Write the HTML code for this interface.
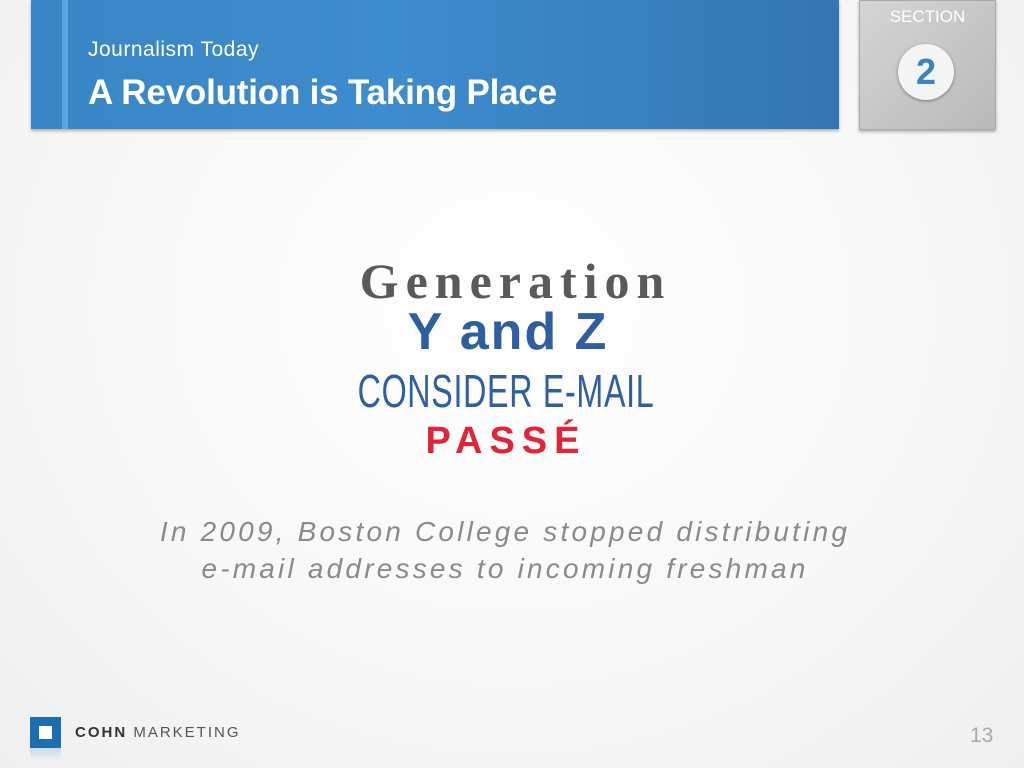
<!DOCTYPE html>
<html><head><meta charset="utf-8"><style>
body{margin:0;width:1024px;height:768px;overflow:hidden;background:radial-gradient(ellipse at 50% 40%,#ffffff 0%,#f7f7f7 60%,#efefef 100%);font-family:"Liberation Sans",sans-serif;position:relative}
.abs{position:absolute}
#banner{left:31px;top:0;width:808px;height:129px;background:linear-gradient(90deg,#3a86c6 0%,#3d8ccd 45%,#3476b2 100%);box-shadow:0 2px 3px rgba(0,0,0,.3)}
#sec{left:859px;top:0;width:137px;height:130px;background:linear-gradient(135deg,#d4d5d5,#b8b9b9);box-shadow:0 2px 3px rgba(0,0,0,.3);border:1px solid #aaa;box-sizing:border-box}
.c{text-align:center;width:1024px;left:0}
</style></head><body>
<div id="banner" class="abs"></div>
<div class="abs" style="left:62px;top:0;width:6px;height:129px;background:#5aa6e0"></div>
<div class="abs" style="left:88px;top:38px;color:#fff;font-size:21px;letter-spacing:0.5px">Journalism Today</div>
<div class="abs" style="left:88px;top:73px;color:#fff;font-size:35px;font-weight:bold;letter-spacing:-0.2px">A Revolution is Taking Place</div>
<div id="sec" class="abs">
<div class="abs" style="left:0;width:135px;top:6px;text-align:center;color:#fff;font-size:17px">SECTION</div>
<div class="abs" style="left:38px;top:43px;width:56px;height:56px;border-radius:50%;background:#f4f4f4;box-shadow:0 1px 3px rgba(0,0,0,.4);text-align:center;line-height:56px;color:#3a84c4;font-size:36px;font-weight:bold">2</div>
</div>
<div class="abs c" style="top:252px;font-family:'Liberation Serif',serif;font-weight:bold;font-size:50px;letter-spacing:7px;padding-left:7px;box-sizing:border-box;color:#5a5a5a">Generation</div>
<div class="abs c" style="top:302px;font-weight:bold;font-size:52px;letter-spacing:2px;color:#2f5f9e;left:-4px">Y and Z</div>
<div class="abs c" style="top:364px;font-size:46px;color:#2f5f9e;transform:scaleX(0.7);letter-spacing:1px;left:-6px">CONSIDER E-MAIL</div>
<div class="abs c" style="top:420px;font-weight:bold;font-size:38px;color:#e0243a;letter-spacing:7px;left:-6px">PASSÉ</div>
<div class="abs c" style="top:513px;font-style:italic;font-size:28px;color:#8a8a8a;letter-spacing:3.2px;line-height:37px;left:-7px">In 2009, Boston College stopped distributing<br>e-mail addresses to incoming freshman</div>
<div class="abs" style="left:30px;top:717px;width:31px;height:31px;background:#1b6fb0"><div class="abs" style="left:9px;top:9px;width:13px;height:13px;background:#fff"></div></div>
<div class="abs" style="left:30px;top:748px;width:31px;height:12px;background:linear-gradient(#c9d9e8,rgba(255,255,255,0))"></div>
<div class="abs" style="left:75px;top:724px;font-size:15px;letter-spacing:2px;color:#333"><b>COHN</b> <span style="color:#555">MARKETING</span></div>
<div class="abs" style="left:970px;top:724px;font-size:21px;color:#aaa">13</div>
</body></html>
